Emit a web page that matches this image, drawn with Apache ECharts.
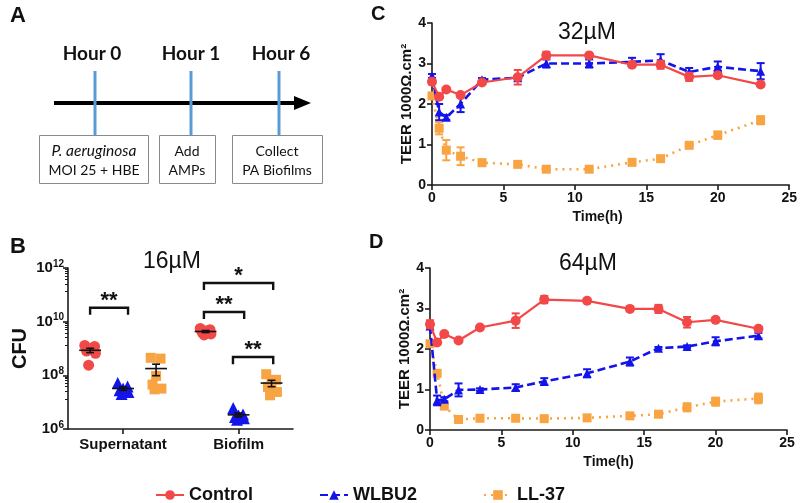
<!DOCTYPE html>
<html><head><meta charset="utf-8">
<script src="https://cdn.jsdelivr.net/npm/echarts@6/dist/echarts.min.js"></script>
<style>html,body{margin:0;padding:0;background:#fff}#c{width:800px;height:503px}</style>
</head><body><div id="c"></div>
<script>
// ---------- DATA ----------
const seriesNames = ['Control', 'WLBU2', 'LL-37'];
const groupNames = ['Supernatant', 'Biofilm'];
const groupCenters = [2, 5.5];                 // label positions of the groups
const pointPositions = [[1, 2, 3], [4.5, 5.5, 6.5]]; // Control / WLBU2 / LL-37 within each group
const jitter = [-0.18, 0.15, 0.0, -0.12, 0.18, -0.05];

// Panel B: CFU per replicate (16µM)
const supControl = [1.3e9, 1.2e9, 9.5e8, 8.0e8, 6.6e8, 2.4e8];
const supWlbu2   = [5.2e7, 3.8e7, 3.2e7, 2.8e7, 2.4e7, 2.0e7];
const supLl37    = [4.5e8, 4.2e8, 9.5e7, 4.5e7, 3.2e7, 3.0e7];
const bioControl = [5.6e9, 5.0e9, 4.5e9, 4.0e9, 3.5e9, 3.2e9];
const bioWlbu2   = [6.0e6, 3.5e6, 3.2e6, 2.8e6, 2.5e6, 2.2e6];
const bioLl37    = [1.1e8, 6.8e7, 5.2e7, 3.7e7, 2.4e7, 1.8e7];
const logTicksB = [1e6, 1e8, 1e10, 1e12];

// significance brackets: [xStart, xEnd, barCFU, dropCFU, label]
const sigBrackets = [
  [1.0, 2.15, 3.3e10, 1.8e10, '**'],
  [4.45, 6.55, 2.75e11, 1.5e11, '*'],
  [4.45, 5.67, 2.3e10, 1.25e10, '**'],
  [5.33, 6.55, 4.8e8, 2.6e8, '**']
];

// Panels C/D: TEER (1000 Ω.cm²) over time (h)
const timeH = [0, 0.5, 1, 2, 3.5, 6, 8, 11, 14, 16, 18, 20, 23];
const c32Control    = [2.55, 2.18, 2.36, 2.22, 2.53, 2.66, 3.2, 3.2, 2.97, 2.97, 2.67, 2.71, 2.48];
const c32ControlErr = [0.06, 0.04, 0.04, 0.05, 0.04, 0.18, 0.09, 0.03, 0.05, 0.1, 0.1, 0.04, 0.04];
const c32Wlbu2      = [2.69, 1.8, 1.67, 2.0, 2.6, 2.65, 3.0, 3.0, 3.04, 3.08, 2.79, 2.92, 2.81];
const c32Wlbu2Err   = [0.05, 0.2, 0.06, 0.2, 0.04, 0.05, 0.1, 0.1, 0.1, 0.15, 0.1, 0.13, 0.2];
const c32Ll37       = [2.2, 1.4, 0.86, 0.71, 0.55, 0.51, 0.39, 0.39, 0.56, 0.65, 0.98, 1.23, 1.6];
const c32Ll37Err    = [0.04, 0.15, 0.25, 0.22, 0.08, 0.04, 0.03, 0.03, 0.04, 0.04, 0.04, 0.09, 0.1];

const d64Control    = [2.61, 2.16, 2.37, 2.21, 2.53, 2.7, 3.22, 3.19, 2.99, 2.99, 2.66, 2.72, 2.5];
const d64ControlErr = [0.1, 0.04, 0.04, 0.04, 0.04, 0.18, 0.09, 0.03, 0.04, 0.1, 0.13, 0.04, 0.04];
const d64Wlbu2      = [2.57, 0.73, 0.76, 0.99, 1.0, 1.05, 1.2, 1.4, 1.69, 2.02, 2.06, 2.19, 2.33];
const d64Wlbu2Err   = [0.08, 0.12, 0.05, 0.16, 0.03, 0.08, 0.08, 0.1, 0.1, 0.03, 0.03, 0.1, 0.07];
const d64Ll37       = [2.13, 1.4, 0.59, 0.26, 0.29, 0.29, 0.28, 0.3, 0.35, 0.39, 0.56, 0.7, 0.78];
const d64Ll37Err    = [0.03, 0.03, 0.05, 0.03, 0.02, 0.02, 0.02, 0.02, 0.03, 0.03, 0.1, 0.1, 0.12];

const panelTitles = ['16µM', '32µM', '64µM'];

// ---------- STYLE ----------
const FONT = '"Liberation Sans", Arial, sans-serif';
const FONT_A = 'Lato, "Liberation Sans", sans-serif';
const RED = '#f24848', BLUE = '#1414ea', ORANGE = '#f8a442', AXIS = '#1a1a1a';
const colors = [RED, BLUE, ORANGE];
const symbols = ['circle', 'triangle', 'rect'];

const axisLine = {show: true, onZero: false, lineStyle: {color: AXIS, width: 1.6}};
const axisTick = {show: true, length: 5, lineStyle: {color: AXIS, width: 1.6}};
const axisLabel = {color: '#111', fontWeight: 'bold', fontSize: 14, fontFamily: FONT, margin: 6};

function mean(a) { return a.reduce((s, v) => s + v, 0) / a.length; }
function sem(a) { const m = mean(a); return Math.sqrt(a.reduce((s, v) => s + (v - m) * (v - m), 0) / (a.length - 1)) / Math.sqrt(a.length); }

const chart = echarts.init(document.getElementById('c'), null, {renderer: 'canvas'});

// ---------- Panel B series ----------
const bGroups = [[supControl, supWlbu2, supLl37], [bioControl, bioWlbu2, bioLl37]];
const bSeries = [];
const bStats = [];
for (let s = 0; s < 3; s++) {
  const pts = [];
  for (let g = 0; g < 2; g++) {
    const vals = bGroups[g][s];
    vals.forEach((v, i) => pts.push([pointPositions[g][s] + jitter[i] * 0.9, v]));
    bStats.push([pointPositions[g][s], mean(vals), sem(vals)]);
  }
  bSeries.push({
    type: 'scatter', name: seriesNames[s] + ' CFU', xAxisIndex: 0, yAxisIndex: 0,
    data: pts, symbol: symbols[s], symbolSize: s === 1 ? 12 : (s === 0 ? 11 : 10),
    itemStyle: {color: colors[s], opacity: 1}, z: 3
  });
}
bSeries.push({
  type: 'custom', name: 'mean', xAxisIndex: 0, yAxisIndex: 0, z: 5,
  encode: {x: 0, y: 1},
  data: bStats.map(d => [d[0], d[1], d[1] - d[2], d[1] + d[2]]),
  renderItem: function (params, api) {
    const x = api.value(0), m = api.value(1), lo = api.value(2), hi = api.value(3);
    const pL = api.coord([x - 0.33, m]), pR = api.coord([x + 0.33, m]);
    const pLo = api.coord([x, lo]), pHi = api.coord([x, hi]);
    const cw = 0.12;
    const st = {stroke: '#111', lineWidth: 1.6};
    return {type: 'group', children: [
      {type: 'line', shape: {x1: pL[0], y1: pL[1], x2: pR[0], y2: pR[1]}, style: st},
      {type: 'line', shape: {x1: pLo[0], y1: pLo[1], x2: pHi[0], y2: pHi[1]}, style: st},
      {type: 'line', shape: {x1: api.coord([x - cw, hi])[0], y1: pHi[1], x2: api.coord([x + cw, hi])[0], y2: pHi[1]}, style: st},
      {type: 'line', shape: {x1: api.coord([x - cw, lo])[0], y1: pLo[1], x2: api.coord([x + cw, lo])[0], y2: pLo[1]}, style: st}
    ]};
  }
});
bSeries.push({
  type: 'custom', name: 'sig', xAxisIndex: 0, yAxisIndex: 0, z: 6,
  encode: {x: [0, 1], y: [2, 3]},
  data: sigBrackets,
  renderItem: function (params, api) {
    const b = sigBrackets[params.dataIndex];
    const a1 = api.coord([b[0], b[3]]), a2 = api.coord([b[0], b[2]]);
    const a3 = api.coord([b[1], b[2]]), a4 = api.coord([b[1], b[3]]);
    return {type: 'group', children: [
      {type: 'polyline', shape: {points: [a1, a2, a3, a4]}, style: {stroke: '#111', lineWidth: 2.4, fill: null}},
      {type: 'text', x: (a2[0] + a3[0]) / 2, y: a2[1] + 4, style: {text: b[4], fill: '#111', font: 'bold 22px ' + FONT, textAlign: 'center', textVerticalAlign: 'bottom'}}
    ]};
  }
});

// ---------- Panels C/D series ----------
function teerSeries(idx, arrs, errs) {
  const out = [];
  const lineTypes = ['solid', [8, 4], [2, 5]];
  const widths = [2.2, 2.6, 2.6];
  const sizes = [10, 9, 9];
  arrs.forEach((vals, s) => {
    out.push({
      type: 'line', name: seriesNames[s], xAxisIndex: idx, yAxisIndex: idx,
      data: timeH.map((t, i) => [t, vals[i]]),
      symbol: symbols[s], symbolSize: sizes[s], showSymbol: true,
      lineStyle: {color: colors[s], width: widths[s], type: lineTypes[s]},
      itemStyle: {color: colors[s]}, z: 4 - s, animation: false
    });
    out.push({
      type: 'custom', name: seriesNames[s] + ' err', xAxisIndex: idx, yAxisIndex: idx, z: 4 - s,
      encode: {x: 0, y: 1},
      data: timeH.map((t, i) => [t, vals[i], errs[s][i]]),
      renderItem: function (params, api) {
        const x = api.value(0), v = api.value(1), e = api.value(2);
        const pHi = api.coord([x, v + e]), pLo = api.coord([x, v - e]);
        const st = {stroke: colors[s], lineWidth: 2};
        return {type: 'group', children: [
          {type: 'line', shape: {x1: pHi[0], y1: pHi[1], x2: pLo[0], y2: pLo[1]}, style: st},
          {type: 'line', shape: {x1: pHi[0] - 4, y1: pHi[1], x2: pHi[0] + 4, y2: pHi[1]}, style: st},
          {type: 'line', shape: {x1: pLo[0] - 4, y1: pLo[1], x2: pLo[0] + 4, y2: pLo[1]}, style: st}
        ]};
      }
    });
  });
  return out;
}

const teerXAxis = (gi, padRight) => ({
  type: 'value', gridIndex: gi, min: 0, max: 25, interval: 5,
  axisLine, axisTick, axisLabel, splitLine: {show: false},
  name: 'Time(h)', nameLocation: 'middle', nameGap: 25,
  nameTextStyle: {color: '#111', fontWeight: 'bold', fontSize: 14, fontFamily: FONT, padding: [0, padRight, 0, 0]}
});
const teerYAxis = (gi) => ({
  type: 'value', gridIndex: gi, min: 0, max: 4, interval: 1,
  axisLine, axisTick, axisLabel, splitLine: {show: false},
  name: 'TEER 1000Ω.cm²', nameLocation: 'middle', nameGap: 16,
  nameTextStyle: {color: '#111', fontWeight: 'bold', fontSize: 15, fontFamily: FONT}
});

const option = {
  animation: false,
  backgroundColor: '#fff',
  grid: [
    {left: 68, top: 268, width: 225, height: 161},
    {left: 432, top: 23, width: 359, height: 162},
    {left: 430, top: 268, width: 357, height: 162}
  ],
  xAxis: [
    {type: 'value', gridIndex: 0, min: 0.33, max: 7.15,
     axisLine, axisTick: Object.assign({}, axisTick, {customValues: groupCenters}),
     axisLabel: Object.assign({}, axisLabel, {fontSize: 15, customValues: groupCenters, margin: 8,
       formatter: v => groupNames[groupCenters.indexOf(v)] || ''}),
     splitLine: {show: false}},
    teerXAxis(1, 26),
    teerXAxis(2, 0)
  ],
  yAxis: [
    {type: 'log', logBase: 10, gridIndex: 0, min: logTicksB[0], max: logTicksB[logTicksB.length - 1], interval: 2,
     axisLine, axisTick, splitLine: {show: false},
     minorTick: {show: true, splitNumber: 8, length: 3, lineStyle: {color: AXIS, width: 1}},
     axisLabel: {margin: 4, formatter: v => {
        const e = Math.round(Math.log10(v));
        return e % 2 === 0 ? '{b|10}{s|' + e + '}' : '';
      }, rich: {b: {fontWeight: 'bold', fontSize: 15, fontFamily: FONT, color: '#111'},
                s: {fontWeight: 'bold', fontSize: 10, fontFamily: FONT, color: '#111', verticalAlign: 'top', padding: [0, 0, 8, 0]}}},
     name: 'CFU', nameLocation: 'middle', nameGap: 38,
     nameTextStyle: {color: '#111', fontWeight: 'bold', fontSize: 20, fontFamily: FONT}},
    teerYAxis(1),
    teerYAxis(2)
  ],
  legend: {
    data: seriesNames, left: 150, top: 481, itemWidth: 28, itemHeight: 12, itemGap: 66,
    textStyle: {color: '#111', fontWeight: 'bold', fontSize: 18, fontFamily: FONT}
  },
  series: [].concat(
    teerSeries(1, [c32Control, c32Wlbu2, c32Ll37], [c32ControlErr, c32Wlbu2Err, c32Ll37Err]),
    teerSeries(2, [d64Control, d64Wlbu2, d64Ll37], [d64ControlErr, d64Wlbu2Err, d64Ll37Err]),
    bSeries
  ),
  graphic: [
    // panel letters
    {type: 'text', left: 10, top: 5, style: {text: 'A', font: 'bold 22px ' + FONT, fill: '#111'}},
    {type: 'text', left: 10, top: 236, style: {text: 'B', font: 'bold 22px ' + FONT, fill: '#111'}},
    {type: 'text', left: 371, top: 4, style: {text: 'C', font: 'bold 20px ' + FONT, fill: '#111'}},
    {type: 'text', left: 369, top: 232, style: {text: 'D', font: 'bold 20px ' + FONT, fill: '#111'}},
    // panel titles
    {type: 'text', x: 172, y: 262, style: {text: panelTitles[0], font: '23px ' + FONT, fill: '#111', textAlign: 'center', textVerticalAlign: 'middle'}},
    {type: 'text', x: 587, y: 33, style: {text: panelTitles[1], font: '23px ' + FONT, fill: '#111', textAlign: 'center', textVerticalAlign: 'middle'}},
    {type: 'text', x: 588, y: 264, style: {text: panelTitles[2], font: '23px ' + FONT, fill: '#111', textAlign: 'center', textVerticalAlign: 'middle'}},
    // panel A schematic
    {type: 'line', shape: {x1: 54, y1: 103, x2: 298, y2: 103}, style: {stroke: '#000', lineWidth: 4}},
    {type: 'polygon', shape: {points: [[294, 96], [311, 103], [294, 110]]}, style: {fill: '#000'}},
    {type: 'line', shape: {x1: 95, y1: 71, x2: 95, y2: 135}, style: {stroke: '#5b9bd5', lineWidth: 3}},
    {type: 'line', shape: {x1: 191, y1: 71, x2: 191, y2: 135}, style: {stroke: '#5b9bd5', lineWidth: 3}},
    {type: 'line', shape: {x1: 279, y1: 71, x2: 279, y2: 135}, style: {stroke: '#5b9bd5', lineWidth: 3}},
    {type: 'text', x: 92, y: 54, style: {text: 'Hour 0', font: 'bold 19px ' + FONT_A, fill: '#111', textAlign: 'center', textVerticalAlign: 'middle'}},
    {type: 'text', x: 191, y: 54, style: {text: 'Hour 1', font: 'bold 19px ' + FONT_A, fill: '#111', textAlign: 'center', textVerticalAlign: 'middle'}},
    {type: 'text', x: 281, y: 54, style: {text: 'Hour 6', font: 'bold 19px ' + FONT_A, fill: '#111', textAlign: 'center', textVerticalAlign: 'middle'}},
    {type: 'rect', shape: {x: 39.5, y: 135.5, width: 109, height: 48}, style: {fill: '#fff', stroke: '#8a8a8a', lineWidth: 1}},
    {type: 'rect', shape: {x: 159.5, y: 135.5, width: 56, height: 48}, style: {fill: '#fff', stroke: '#8a8a8a', lineWidth: 1}},
    {type: 'rect', shape: {x: 232.5, y: 135.5, width: 90, height: 48}, style: {fill: '#fff', stroke: '#8a8a8a', lineWidth: 1}},
    {type: 'text', x: 94, y: 151, style: {text: 'P. aeruginosa', font: 'italic 15.5px ' + FONT_A, fill: '#111', textAlign: 'center', textVerticalAlign: 'middle'}},
    {type: 'text', x: 94, y: 170, style: {text: 'MOI 25 + HBE', font: '14px ' + FONT_A, fill: '#111', textAlign: 'center', textVerticalAlign: 'middle'}},
    {type: 'text', x: 187, y: 151, style: {text: 'Add', font: '14px ' + FONT_A, fill: '#111', textAlign: 'center', textVerticalAlign: 'middle'}},
    {type: 'text', x: 187, y: 170, style: {text: 'AMPs', font: '14px ' + FONT_A, fill: '#111', textAlign: 'center', textVerticalAlign: 'middle'}},
    {type: 'text', x: 277, y: 151, style: {text: 'Collect', font: '14px ' + FONT_A, fill: '#111', textAlign: 'center', textVerticalAlign: 'middle'}},
    {type: 'text', x: 277, y: 170, style: {text: 'PA Biofilms', font: '14px ' + FONT_A, fill: '#111', textAlign: 'center', textVerticalAlign: 'middle'}}
  ]
};
chart.setOption(option);
</script></body></html>
